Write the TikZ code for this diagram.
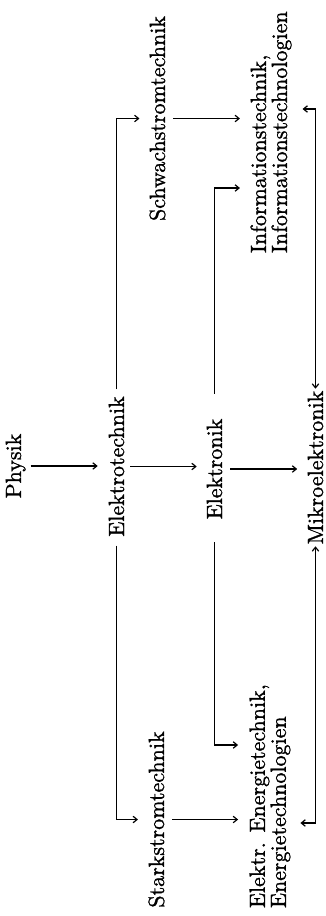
\documentclass[tikz,border=0pt]{standalone}
\usepackage{fontspec}
\usetikzlibrary{arrows.meta}
\newfontfamily\lblfont{lmroman10-regular}[Extension=.otf, FakeBold=1.2]
\begin{document}
\begin{tikzpicture}[x=1pt,y=-1pt,
  lbl/.style={rotate=90, inner sep=0pt, outer sep=0pt,
    font=\lblfont\fontsize{22}{21}\selectfont},
  multi/.style={lbl, align=left},
  tip/.tip={Straight Barb[length=4pt,width=6.5pt,line width=1.2pt]},
  link/.style={line width=1.8pt, -tip},
  both/.style={line width=1.8pt, tip-tip}
]
\fill[white] (0,0) rectangle (326,916);
\useasboundingbox (0,0) rectangle (326,916);

% middle row
\node[lbl, anchor=base] (phys)  at (21,466)    {Physik};
\node[lbl, anchor=base] (elt)   at (124,466.5) {Elektrotechnik};
\node[lbl, anchor=base] (elr)   at (222,469)   {Elektronik};
\node[lbl, anchor=base] (mik)   at (323,467.5) {Mikroelektronik};

% branches
\node[lbl, anchor=base] (schw)  at (165,118.5) {Schwachstromtechnik};
\node[lbl, anchor=base] (stark) at (164,819.5) {Starkstromtechnik};
\node[multi, anchor=west] (info)  at (271,253)
  {Informationstechnik,\\Informationstechnologien};
\node[multi, anchor=west] (energ) at (270,908)
  {Elektr. Energietechnik,\\Energietechnologien};

% entry points on the application fields
\coordinate (infoE)  at (info.north |- 0,188);
\coordinate (infoM)  at (info.south |- 0,109);
\coordinate (energE) at (energ.north |- 0,745);
\coordinate (energM) at (energ.south |- 0,823);

% straight chain
\draw[link, shorten <=5pt, shorten >=11pt] (phys.south) -- (phys.south -| elt.north);
\draw[link, shorten <=6pt, shorten >=10pt] (elt.south) -- (elt.south -| elr.north);
\draw[link, shorten <=8pt, shorten >=10.5pt] (elr.south) -- (elr.south -| mik.north);

% Elektrotechnik splits into Schwach- and Starkstromtechnik
\draw[link, shorten <=7pt, shorten >=10pt]
  (elt.east) -- (elt.east |- schw.north) -- (schw.north);
\draw[link, shorten <=9pt, shorten >=10.5pt]
  (elt.west) -- (elt.west |- stark.north) -- (stark.north);
\draw[link, shorten <=8pt, shorten >=10.5pt] (schw.south) -- (schw.south -| info.north);
\draw[link, shorten <=8pt, shorten >=11.5pt] (stark.south) -- (stark.south -| energ.north);

% Elektronik feeds both application fields
\draw[link, shorten <=25pt, shorten >=10.5pt]
  (elr.east) -- (elr.east |- infoE) -- (infoE);
\draw[link, shorten <=23pt, shorten >=11.5pt]
  (elr.west) -- (elr.west |- energE) -- (energE);

% Mikroelektronik exchanges with both application fields
\draw[both, shorten <=2pt, shorten >=11pt]
  (mik.east) -- (mik.east |- infoM) -- (infoM);
\draw[both, shorten <=2pt, shorten >=10pt]
  (mik.west) -- (mik.west |- energM) -- (energM);
\end{tikzpicture}
\end{document}
